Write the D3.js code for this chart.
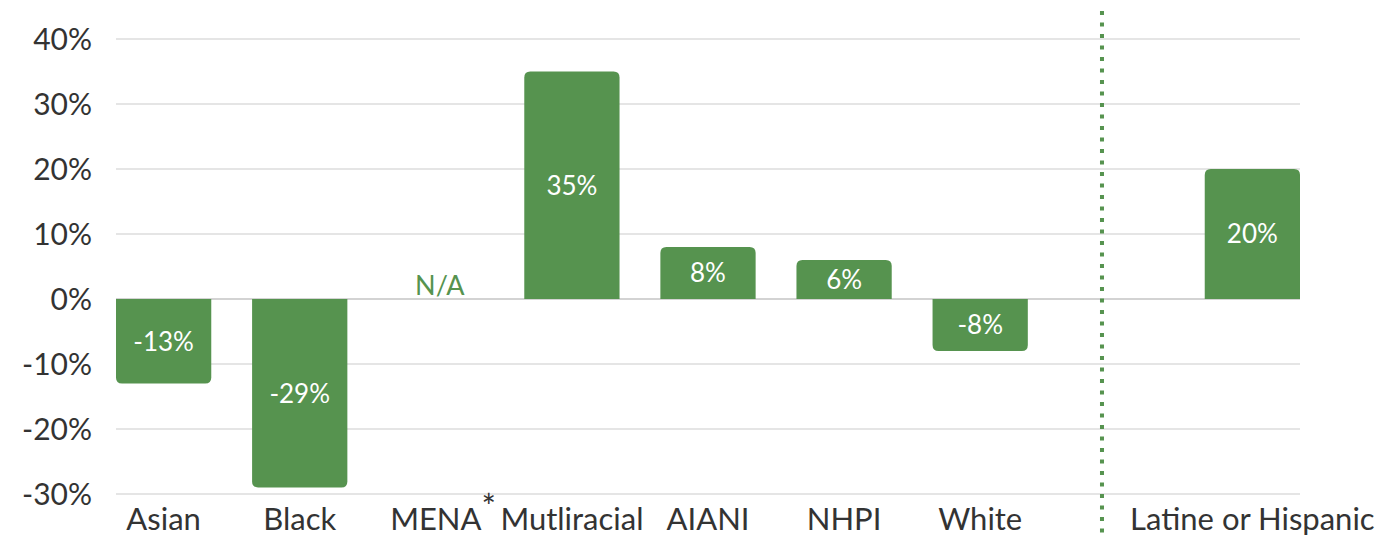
<!DOCTYPE html>
<html>
<head>
<meta charset="utf-8">
<script src="https://cdn.jsdelivr.net/npm/d3@7"></script>
<style>
  html, body { margin: 0; padding: 0; background: #fff; }
  svg { display: block; font-family: Lato, "Open Sans", sans-serif; }
</style>
</head>
<body>
<script>
// data
const categories = ["Asian", "Black", "MENA", "Mutliracial", "AIANI", "NHPI", "White", "", "Latine or Hispanic"];
const values = [-0.13, -0.29, null, 0.35, 0.08, 0.06, -0.08, null, 0.20];
const yTicks = [-0.3, -0.2, -0.1, 0, 0.1, 0.2, 0.3, 0.4];
const naCategory = "MENA";
const footnoteCategory = "MENA";

const W = 1376, H = 537;
const GREEN = "#56934f";
const FONT = "Lato, 'Open Sans', sans-serif";
const margin = { top: 39, right: 76, bottom: 43, left: 116 };

// plain hyphen instead of d3's unicode minus
const pct = v => d3.format(".0%")(v).replace("\u2212", "-");

const svg = d3.select("body").append("svg")
    .attr("width", W)
    .attr("height", H);

// band keys need to be unique, so use the index
const keys = categories.map((c, i) => i);
const x = d3.scaleBand()
    .domain(keys)
    .range([margin.left, W - margin.right])
    .paddingInner(0.3)
    .paddingOuter(0);

const y = d3.scaleLinear()
    .domain([-0.3, 0.4])
    .range([H - margin.bottom, margin.top]);

// gridlines
svg.append("g")
    .selectAll("line")
    .data(yTicks)
    .join("line")
    .attr("x1", margin.left)
    .attr("x2", W - margin.right)
    .attr("y1", d => y(d))
    .attr("y2", d => y(d))
    .attr("stroke", d => d === 0 ? "#c4c4c4" : "#dcdcdc")
    .attr("stroke-width", 1.5);

// y axis labels
const yAxis = d3.axisLeft(y)
    .tickValues(yTicks)
    .tickFormat(pct)
    .tickSize(0)
    .tickPadding(0);

svg.append("g")
    .attr("transform", `translate(${margin.left - 24},0)`)
    .call(yAxis)
    .attr("font-family", FONT)
    .attr("font-size", 30)
    .call(g => g.select(".domain").remove())
    .call(g => g.selectAll("text")
        .attr("fill", "#333")
        .attr("dy", "0.36em"));

// bar path with rounded outer end
function barPath(i, v) {
    const x0 = x(i), w = x.bandwidth();
    const y0 = y(0), y1 = y(v);
    const r = Math.min(6, Math.abs(y1 - y0));
    const s = v >= 0 ? 1 : -1; // direction from outer end toward zero
    return `M${x0},${y0}` +
        `L${x0},${y1 + s * r}` +
        `Q${x0},${y1} ${x0 + r},${y1}` +
        `L${x0 + w - r},${y1}` +
        `Q${x0 + w},${y1} ${x0 + w},${y1 + s * r}` +
        `L${x0 + w},${y0}Z`;
}

const barData = keys.filter(i => values[i] !== null);

svg.append("g")
    .selectAll("path")
    .data(barData)
    .join("path")
    .attr("d", i => barPath(i, values[i]))
    .attr("fill", GREEN);

// value labels
svg.append("g")
    .selectAll("text")
    .data(barData)
    .join("text")
    .attr("x", i => x(i) + x.bandwidth() / 2)
    .attr("y", i => (y(0) + y(values[i])) / 2)
    .attr("dy", "0.36em")
    .attr("text-anchor", "middle")
    .attr("font-size", 26)
    .attr("fill", "#fff")
    .text(i => pct(values[i]));

// N/A label
const naIdx = categories.indexOf(naCategory);
svg.append("text")
    .attr("x", x(naIdx) + x.bandwidth() / 2 + 4)
    .attr("y", y(0) - 4)
    .attr("text-anchor", "middle")
    .attr("font-size", 27)
    .attr("fill", GREEN)
    .text("N/A");

// category labels
const xAxis = d3.axisBottom(x)
    .tickFormat(i => categories[i])
    .tickSize(0)
    .tickPadding(0);

const xg = svg.append("g")
    .attr("transform", `translate(0,${H - 7})`)
    .call(xAxis)
    .attr("font-family", FONT)
    .attr("font-size", 31)
    .call(g => g.select(".domain").remove());

xg.selectAll("text")
    .attr("fill", "#333")
    .attr("dy", 0)
    .attr("y", 0);

// footnote asterisk after MENA
const fIdx = categories.indexOf(footnoteCategory);
const fText = xg.selectAll(".tick text").filter(i => i === fIdx);
const fw = fText.node().getComputedTextLength();
svg.append("text")
    .attr("x", x(fIdx) + x.bandwidth() / 2 + fw / 2)
    .attr("y", H - 18)
    .attr("font-size", 34)
    .attr("fill", "#333")
    .text("*");

// dotted divider between the groups
const gapIdx = 7;
svg.append("line")
    .attr("x1", x(gapIdx) + x.bandwidth() * 0.35)
    .attr("x2", x(gapIdx) + x.bandwidth() * 0.35)
    .attr("y1", 11)
    .attr("y2", H)
    .attr("stroke", GREEN)
    .attr("stroke-width", 4)
    .attr("stroke-dasharray", "4,7.5");
</script>
</body>
</html>
